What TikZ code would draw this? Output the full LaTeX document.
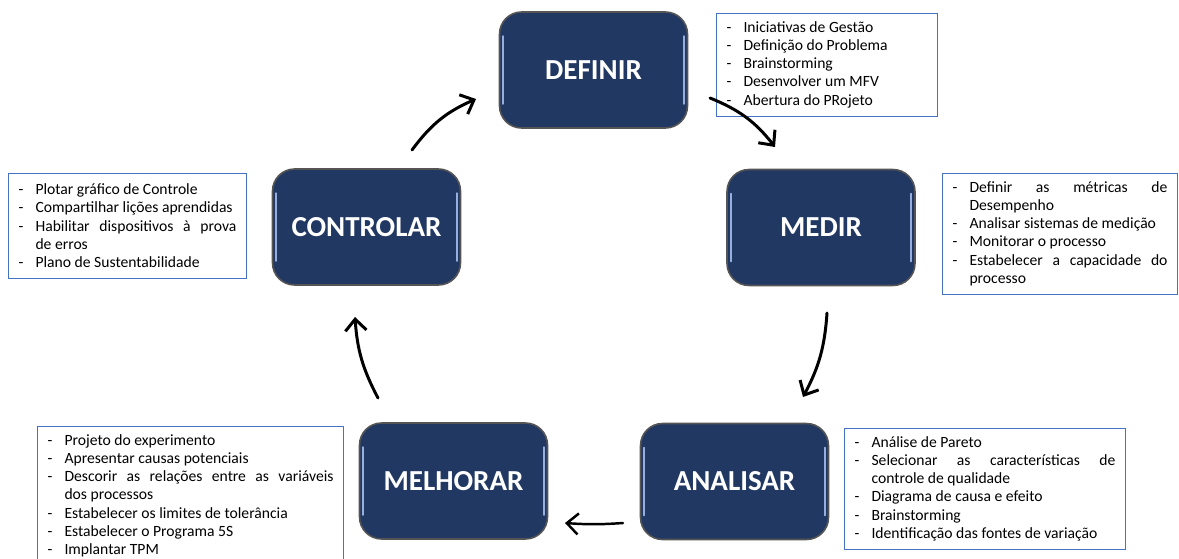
\documentclass[tikz,border=0pt]{standalone}
\usepackage{fontspec}
\setmainfont{Carlito}
\usetikzlibrary{positioning,arrows.meta}
\definecolor{navy}{RGB}{33,56,99}
\definecolor{rim}{RGB}{85,85,85}
\definecolor{shine}{RGB}{150,175,222}
\definecolor{frame}{RGB}{68,114,196}
\newcommand{\listfont}{\fontsize{8.9pt}{10.3pt}\selectfont}
\newenvironment{steps}{\begin{list}{-}{\setlength{\leftmargin}{0.34cm}\setlength{\labelwidth}{0.34cm}%
  \setlength{\labelsep}{0pt}\setlength{\itemsep}{0pt}\setlength{\parsep}{0pt}%
  \setlength{\topsep}{0pt}\setlength{\partopsep}{0pt}\renewcommand{\makelabel}[1]{##1\hfil}}}{\end{list}\par\kern 0.16cm}
\hyphenpenalty=10000
\exhyphenpenalty=10000

\begin{document}
\begin{tikzpicture}[x=0.02cm,y=-0.02cm,
    phase/.style={rounded corners=0.44cm,fill=navy,draw=rim,line width=0.9pt,text=white,
      minimum width=3.76cm,minimum height=2.32cm,font=\fontsize{16.5pt}{18pt}\selectfont\bfseries},
    gloss/.style={shine,line width=1.1pt,line cap=round},
    tasklist/.style={draw=frame,line width=0.6pt,anchor=north west,inner xsep=0.2cm,inner ysep=0.02cm,
      align=justify,font=\listfont},
    flow/.style={-{Straight Barb[length=6.5pt,width=12pt]},line width=1.7pt,line cap=round}]
  \useasboundingbox (0,0) rectangle (1179,558);
  \clip (0,0) rectangle (1179,558);

  % the five phases
  \node[phase] (def) at (593.5,70) {DEFINIR};
  \node[phase] (med) at (821,227.5) {MEDIR};
  \node[phase] (ana) at (734.5,481.5) {ANALISAR};
  \node[phase] (mel) at (453.5,481) {MELHORAR};
  \node[phase] (ctl) at (366.5,227) {CONTROLAR};

  % glossy edges
  \foreach \n in {def,med,ana,mel,ctl}{
    \draw[gloss] ([xshift=0.09cm,yshift=-0.5cm]\n.north west) -- ([xshift=0.09cm,yshift=0.5cm]\n.south west);
    \draw[gloss] ([xshift=-0.09cm,yshift=-0.5cm]\n.north east) -- ([xshift=-0.09cm,yshift=0.5cm]\n.south east);
  }

  % activities of each phase
  \node[tasklist,text width=4.02cm,minimum height=2.02cm] (tdef) at (716,13) {\begin{steps}
    \item Iniciativas de Gestão
    \item Definição do Problema
    \item Brainstorming
    \item Desenvolver um MFV
    \item Abertura do PRojeto
  \end{steps}};
  \node[tasklist,text width=4.30cm,minimum height=2.36cm] (tmed) at (942,173) {\begin{steps}
    \item Definir as métricas de\linebreak Desempenho
    \item Analisar sistemas de medição
    \item Monitorar o processo
    \item Estabelecer a capacidade do\linebreak processo
  \end{steps}};
  \node[tasklist,text width=5.22cm,minimum height=2.38cm] (tana) at (844,428) {\begin{steps}
    \item Análise de Pareto
    \item Selecionar as características de\linebreak controle de qualidade
    \item Diagrama de causa e efeito
    \item Brainstorming
    \item Identificação das fontes de variação
  \end{steps}};
  \node[tasklist,text width=5.72cm] (tmel) at (37,426) {\begin{steps}
    \item Projeto do experimento
    \item Apresentar causas potenciais
    \item Descorir as relações entre as variáveis\linebreak dos processos
    \item Estabelecer os limites de tolerância
    \item Estabelecer o Programa 5S
    \item Implantar TPM
  \end{steps}\kern 0.3cm};
  \node[tasklist,text width=4.36cm,minimum height=2.10cm] (tctl) at (8,173) {\begin{steps}
    \item Plotar gráfico de Controle
    \item Compartilhar lições aprendidas
    \item Habilitar dispositivos à prova\linebreak de erros
    \item Plano de Sustentabilidade
  \end{steps}};

  % cycle arrows
  \coordinate (def-out) at (710,98);
  \coordinate (med-in) at (775,147);
  \coordinate (med-out) at (827,313);
  \coordinate (ana-in) at (803,397);
  \coordinate (ana-out) at (623,523);
  \coordinate (mel-in) at (565,523);
  \coordinate (mel-out) at (378,398);
  \coordinate (ctl-in) at (355,317);
  \coordinate (ctl-out) at (412,150);
  \coordinate (def-in) at (476,99);
  \draw[flow] (def-out) to[bend left=15] (med-in);
  \draw[flow] (med-out) to[bend left=12] (ana-in);
  \draw[flow,line width=1.4pt] (ana-out) to[bend left=4] (mel-in);
  \draw[flow] (mel-out) to[bend left=12] (ctl-in);
  \draw[flow] (ctl-out) to[bend left=15] (def-in);
\end{tikzpicture}
\end{document}
